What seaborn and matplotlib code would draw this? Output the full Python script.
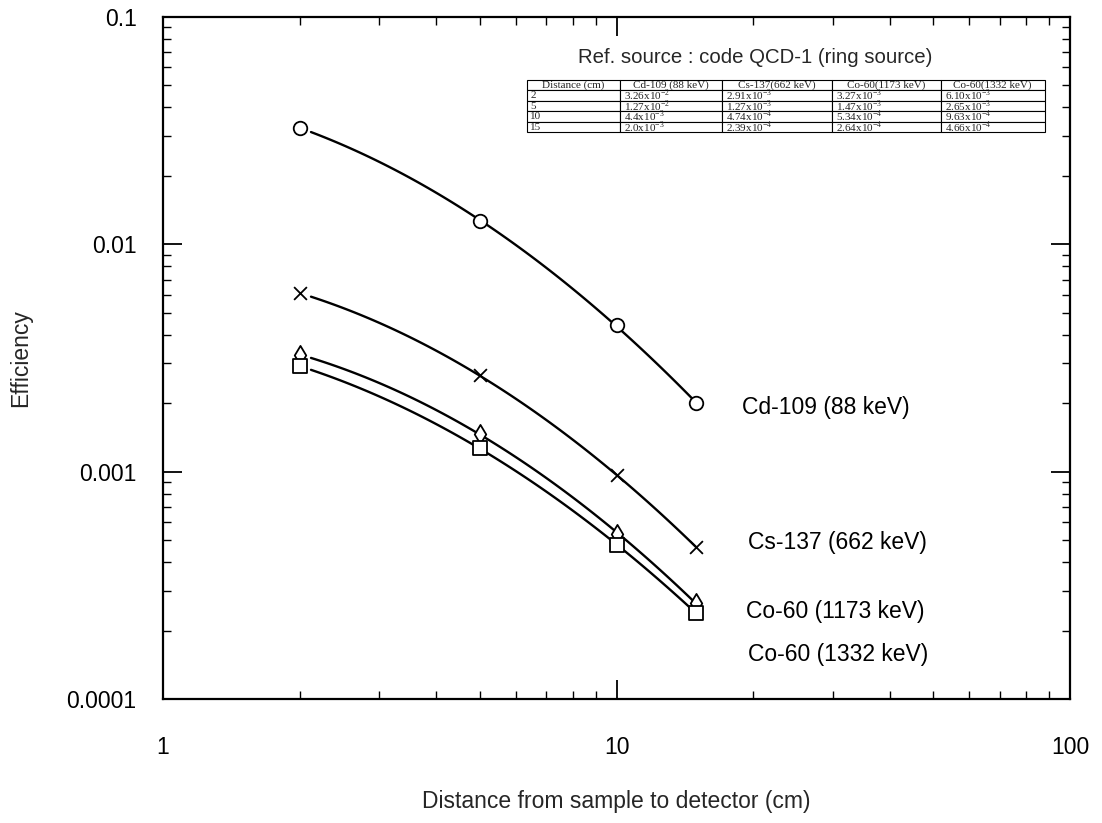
import numpy as np
import pandas as pd
import matplotlib
matplotlib.use("Agg")
import matplotlib.pyplot as plt
from matplotlib.ticker import FixedLocator, FixedFormatter, LogLocator, NullFormatter
import seaborn as sns

# Measured efficiencies (ring source QCD-1)
distance = [2, 5, 10, 15]
eff_cd109 = [3.26e-2, 1.27e-2, 4.4e-3, 2.0e-3]
eff_cs137 = [6.10e-3, 2.65e-3, 9.63e-4, 4.66e-4]
eff_co60_1173 = [3.27e-3, 1.47e-3, 5.34e-4, 2.64e-4]
eff_co60_1332 = [2.91e-3, 1.27e-3, 4.74e-4, 2.39e-4]

# Table shown in the upper right
table_header = ["Distance (cm)", "Cd-109 (88 keV)", "Cs-137(662 keV)",
                "Co-60(1173 keV)", "Co-60(1332 keV)"]
table_rows = [
    ["2", r"3.26x10$^{-2}$", r"2.91x10$^{-3}$", r"3.27x10$^{-3}$", r"6.10x10$^{-3}$"],
    ["5", r"1.27x10$^{-2}$", r"1.27x10$^{-3}$", r"1.47x10$^{-3}$", r"2.65x10$^{-3}$"],
    ["10", r"4.4x10$^{-3}$", r"4.74x10$^{-4}$", r"5.34x10$^{-4}$", r"9.63x10$^{-4}$"],
    ["15", r"2.0x10$^{-3}$", r"2.39x10$^{-4}$", r"2.64x10$^{-4}$", r"4.66x10$^{-4}$"],
]

y_ticks = [1e-4, 1e-3, 1e-2, 1e-1]
y_tick_labels = ["0.0001", "0.001", "0.01", "0.1"]
x_ticks = [1, 10, 100]
x_tick_labels = ["1", "10", "100"]

series = [
    ("Cd-109 (88 keV)", eff_cd109, "o"),
    ("Cs-137 (662 keV)", eff_cs137, "x"),
    ("Co-60 (1173 keV)", eff_co60_1173, "d"),
    ("Co-60 (1332 keV)", eff_co60_1332, "s"),
]

sns.set_theme(style="ticks")
plt.rcParams["font.family"] = ["Liberation Sans", "DejaVu Sans"]
plt.rcParams["mathtext.fontset"] = "custom"
plt.rcParams["mathtext.rm"] = "Liberation Serif"

fig = plt.figure(figsize=(11.02, 8.23), dpi=100)
ax = fig.add_axes([163 / 1102, (823 - 699) / 823, 907 / 1102, 682 / 823])

pts = pd.concat([pd.DataFrame({"distance": distance, "eff": v, "source": n})
                 for n, v, _ in series], ignore_index=True)

# Smooth log-log quadratic trend through each source's points
curves = []
xs = np.logspace(np.log10(2.12), np.log10(15), 80)
for name, vals, _ in series:
    c = np.polyfit(np.log10(distance), np.log10(vals), 2)
    curves.append(pd.DataFrame({"distance": xs,
                                "eff": 10 ** np.polyval(c, np.log10(xs)),
                                "source": name}))
curves = pd.concat(curves, ignore_index=True)

sns.lineplot(data=curves, x="distance", y="eff", hue="source",
             palette=["black"] * 4, linewidth=1.7, legend=False, ax=ax)
for name, vals, mk in series:
    sub = pts[pts["source"] == name]
    if mk == "x":
        sns.scatterplot(data=sub, x="distance", y="eff", marker="x", s=85,
                        color="black", linewidth=1.3, legend=False, ax=ax, zorder=3)
    else:
        sns.scatterplot(data=sub, x="distance", y="eff", marker=mk, s=95,
                        facecolor="white", edgecolor="black", linewidth=1.3,
                        legend=False, ax=ax, zorder=3)

ax.set_xscale("log")
ax.set_yscale("log")
ax.set_xlim(1, 100)
ax.set_ylim(1e-4, 1e-1)

ax.xaxis.set_major_locator(FixedLocator(x_ticks))
ax.xaxis.set_major_formatter(FixedFormatter(x_tick_labels))
ax.yaxis.set_major_locator(FixedLocator(y_ticks))
ax.yaxis.set_major_formatter(FixedFormatter(y_tick_labels))
for axis in (ax.xaxis, ax.yaxis):
    axis.set_minor_locator(LogLocator(base=10, subs=np.arange(2, 10)))
    axis.set_minor_formatter(NullFormatter())

ax.tick_params(which="both", direction="in", top=True, right=True,
               color="black", labelsize=16.5, labelcolor="black")
ax.tick_params(which="major", length=14, width=1.3)
ax.tick_params(which="minor", length=6, width=1.0)
ax.tick_params(axis="x", which="major", pad=27)
ax.tick_params(axis="y", which="major", pad=19)
for sp in ax.spines.values():
    sp.set_linewidth(1.6)
    sp.set_color("black")

ax.set_xlabel("Distance from sample to detector (cm)", fontsize=16.5, labelpad=22)
ax.set_ylabel("Efficiency", fontsize=16.5, labelpad=25)

# Source labels next to the curves
label_pos = [(0.638, 0.427), (0.645, 0.229), (0.643, 0.129), (0.645, 0.065)]
for (name, _, _), (lx, ly) in zip(series, label_pos):
    ax.text(lx, ly, name, transform=ax.transAxes, fontsize=16.5,
            ha="left", va="center", color="black")

ax.text(0.4575, 0.94, "Ref. source : code QCD-1 (ring source)",
        transform=ax.transAxes, fontsize=14.7, ha="left", va="center")

tbl = ax.table(cellText=table_rows, colLabels=table_header, cellLoc="left",
               colWidths=[93, 102, 110, 109, 104],
               bbox=[0.401, 0.831, 0.571, 0.077])
tbl.auto_set_font_size(False)
for (r, c), cell in tbl.get_celld().items():
    cell.set_edgecolor("black")
    cell.set_linewidth(0.8)
    cell.get_text().set_fontfamily("Liberation Serif")
    cell.get_text().set_fontsize(8)
    cell.PAD = 0.04

fig.savefig("out.png", dpi=100, facecolor="white")
